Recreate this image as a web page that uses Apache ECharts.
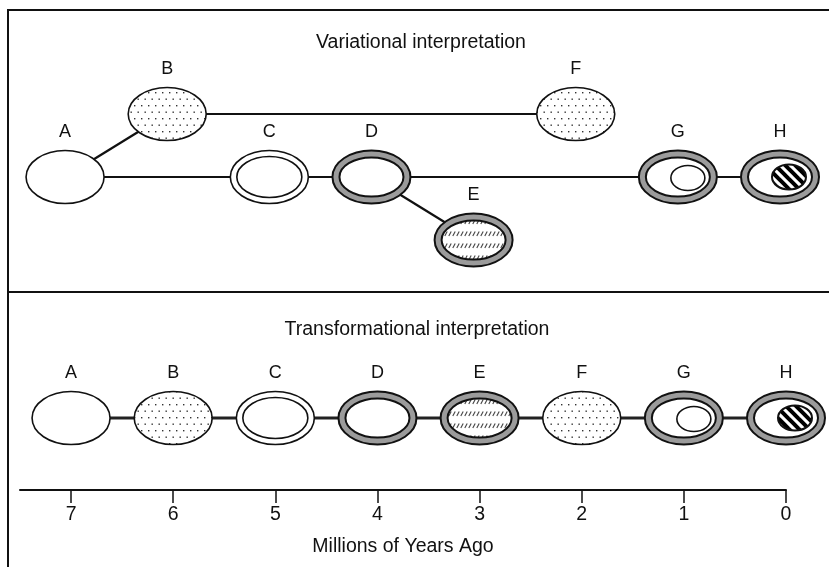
<!DOCTYPE html>
<html>
<head>
<meta charset="utf-8">
<script src="https://cdn.jsdelivr.net/npm/echarts@6/dist/echarts.min.js"></script>
<style>html,body{margin:0;padding:0;background:#fff}#c{width:829px;height:567px}</style>
</head>
<body>
<div id="c"></div>
<script>
// ---- data ----
const nodeLabels = ['A','B','C','D','E','F','G','H'];
const timeMya = [7, 6, 5, 4, 3, 2, 1, 0];
const nodeKinds = ['plain','dots','double','ring','ringHatch','dots','ringDot','ringStripe'];
const variationalRow = [0, 1, 0, 0, -1, 1, 0, 0];
const variationalLinks = [['A','B'],['B','F'],['A','C'],['C','D'],['D','G'],['G','H'],['D','E']];
const transformationalRow = [0, 0, 0, 0, 0, 0, 0, 0];
const transformationalLinks = [['A','B'],['B','C'],['C','D'],['D','E'],['E','F'],['F','G'],['G','H']];
const tickValues = [0, 1, 2, 3, 4, 5, 6, 7];
const titles = ['Variational interpretation', 'Transformational interpretation'];
const axisTitle = 'Millions of Years Ago';

// ---- patterns ----
function makeCanvas(w, h, draw) {
  const cv = document.createElement('canvas');
  cv.width = w; cv.height = h;
  const ctx = cv.getContext('2d');
  ctx.fillStyle = '#fff'; ctx.fillRect(0, 0, w, h);
  draw(ctx);
  return cv;
}
const dotPattern = makeCanvas(7, 13, ctx => {
  ctx.fillStyle = '#333';
  ctx.fillRect(1, 1, 1.4, 1.4);
  ctx.fillRect(4.5, 7.5, 1.4, 1.4);
});
const hatchPattern = makeCanvas(4, 12, ctx => {
  ctx.strokeStyle = '#444'; ctx.lineWidth = 1.1;
  ctx.beginPath(); ctx.moveTo(0.8, 8); ctx.lineTo(3.2, 3.5); ctx.stroke();
});
const stripePattern = makeCanvas(10, 10, ctx => {
  ctx.strokeStyle = '#000'; ctx.lineWidth = 4;
  for (let k = -1; k <= 1; k++) {
    ctx.beginPath(); ctx.moveTo(-2, -2 + k * 10); ctx.lineTo(12, 12 + k * 10); ctx.stroke();
  }
});

const FONT = 'Liberation Sans';
const INK = '#111';
const GREY = '#9b9b9b';

function ell(cx, cy, rx, ry, fill, lw) {
  return { type: 'ellipse', shape: { cx: cx, cy: cy, rx: rx, ry: ry },
    style: { fill: fill, stroke: INK, lineWidth: lw } };
}

function renderNode(params, api) {
  const idx = api.value(2);
  const c = api.coord([api.value(0), api.value(1)]);
  const cx = c[0], cy = c[1];
  const kind = nodeKinds[idx];
  const ch = [];
  const RX = 39, RY = 26.5;
  if (kind === 'plain') {
    ch.push(ell(cx, cy, RX, RY, '#fff', 1.6));
  } else if (kind === 'dots') {
    ch.push(ell(cx, cy, RX, RY, { image: dotPattern, repeat: 'repeat' }, 1.6));
  } else if (kind === 'double') {
    ch.push(ell(cx, cy, RX, RY, '#fff', 1.6));
    ch.push(ell(cx, cy, 32.5, 20.5, 'none', 1.6));
  } else {
    ch.push(ell(cx, cy, RX, RY, GREY, 2));
    const inner = kind === 'ringHatch' ? { image: hatchPattern, repeat: 'repeat' } : '#fff';
    ch.push(ell(cx, cy, 32, 19.5, inner, 2));
    if (kind === 'ringDot') ch.push(ell(cx + 10, cy + 1, 17, 12.5, '#fff', 1.6));
    if (kind === 'ringStripe') ch.push(ell(cx + 9, cy, 17, 12.5, { image: stripePattern, repeat: 'repeat' }, 2));
  }
  ch.push({ type: 'text', style: { text: nodeLabels[idx], x: cx, y: cy - 45,
    align: 'center', verticalAlign: 'middle', fontSize: 18, fontFamily: FONT, fill: INK } });
  return { type: 'group', children: ch };
}

function makeLinkRender(lw, color) {
  return function (params, api) {
    const p1 = api.coord([api.value(0), api.value(1)]);
    const p2 = api.coord([api.value(2), api.value(3)]);
    return { type: 'line', shape: { x1: p1[0], y1: p1[1], x2: p2[0], y2: p2[1] },
      style: { stroke: color, lineWidth: lw } };
  };
}

function linkData(links, rows) {
  return links.map(l => {
    const a = nodeLabels.indexOf(l[0]), b = nodeLabels.indexOf(l[1]);
    return [timeMya[a], rows[a], timeMya[b], rows[b]];
  });
}
const variationalNodes = nodeLabels.map((n, i) => [timeMya[i], variationalRow[i], i]);
const transformationalNodes = nodeLabels.map((n, i) => [timeMya[i], transformationalRow[i], i]);

const chart = echarts.init(document.getElementById('c'), null, { renderer: 'canvas' });
chart.setOption({
  animation: false,
  backgroundColor: '#fff',
  title: [
    { text: titles[0], left: 421, top: 33, textAlign: 'center', padding: 0,
      textStyle: { fontSize: 19.5, fontWeight: 'normal', fontFamily: FONT, color: INK } },
    { text: titles[1], left: 417, top: 320, textAlign: 'center', padding: 0,
      textStyle: { fontSize: 19.5, fontWeight: 'normal', fontFamily: FONT, color: INK } }
  ],
  grid: [
    { left: 14, right: 49, top: 114, height: 126 },
    { left: 20, right: 43, top: 418, bottom: 77 }
  ],
  xAxis: [
    { gridIndex: 0, type: 'value', min: 0, max: 7.5, inverse: true, show: false },
    { gridIndex: 1, type: 'value', min: 0, max: 7.5, interval: 1, inverse: true,
      position: 'bottom',
      axisLine: { show: true, onZero: false, lineStyle: { color: INK, width: 2 } },
      axisTick: { show: true, length: 13, customValues: tickValues, lineStyle: { color: INK, width: 1.5 } },
      axisLabel: { show: true, margin: 15, customValues: tickValues, fontSize: 19.5, fontFamily: FONT, color: INK },
      splitLine: { show: false },
      name: axisTitle, nameLocation: 'middle', nameGap: 47,
      nameTextStyle: { fontSize: 19.5, fontFamily: FONT, color: INK } }
  ],
  yAxis: [
    { gridIndex: 0, type: 'value', min: -1, max: 1, show: false },
    { gridIndex: 1, type: 'value', min: -1, max: 0, show: false }
  ],
  graphic: [
    { type: 'line', shape: { x1: 8, y1: 10, x2: 8, y2: 567 }, style: { stroke: INK, lineWidth: 2 } },
    { type: 'line', shape: { x1: 7, y1: 10, x2: 829, y2: 10 }, style: { stroke: INK, lineWidth: 2 } },
    { type: 'line', shape: { x1: 7, y1: 292, x2: 829, y2: 292 }, style: { stroke: INK, lineWidth: 2 } }
  ],
  series: [
    { type: 'custom', xAxisIndex: 0, yAxisIndex: 0, z: 1, clip: false,
      renderItem: makeLinkRender(2.2, INK), data: linkData(variationalLinks, variationalRow) },
    { type: 'custom', xAxisIndex: 0, yAxisIndex: 0, z: 2, clip: false,
      renderItem: renderNode, data: variationalNodes },
    { type: 'custom', xAxisIndex: 1, yAxisIndex: 1, z: 1, clip: false,
      renderItem: makeLinkRender(3, '#222'), data: linkData(transformationalLinks, transformationalRow) },
    { type: 'custom', xAxisIndex: 1, yAxisIndex: 1, z: 2, clip: false,
      renderItem: renderNode, data: transformationalNodes }
  ]
});
</script>
</body>
</html>
